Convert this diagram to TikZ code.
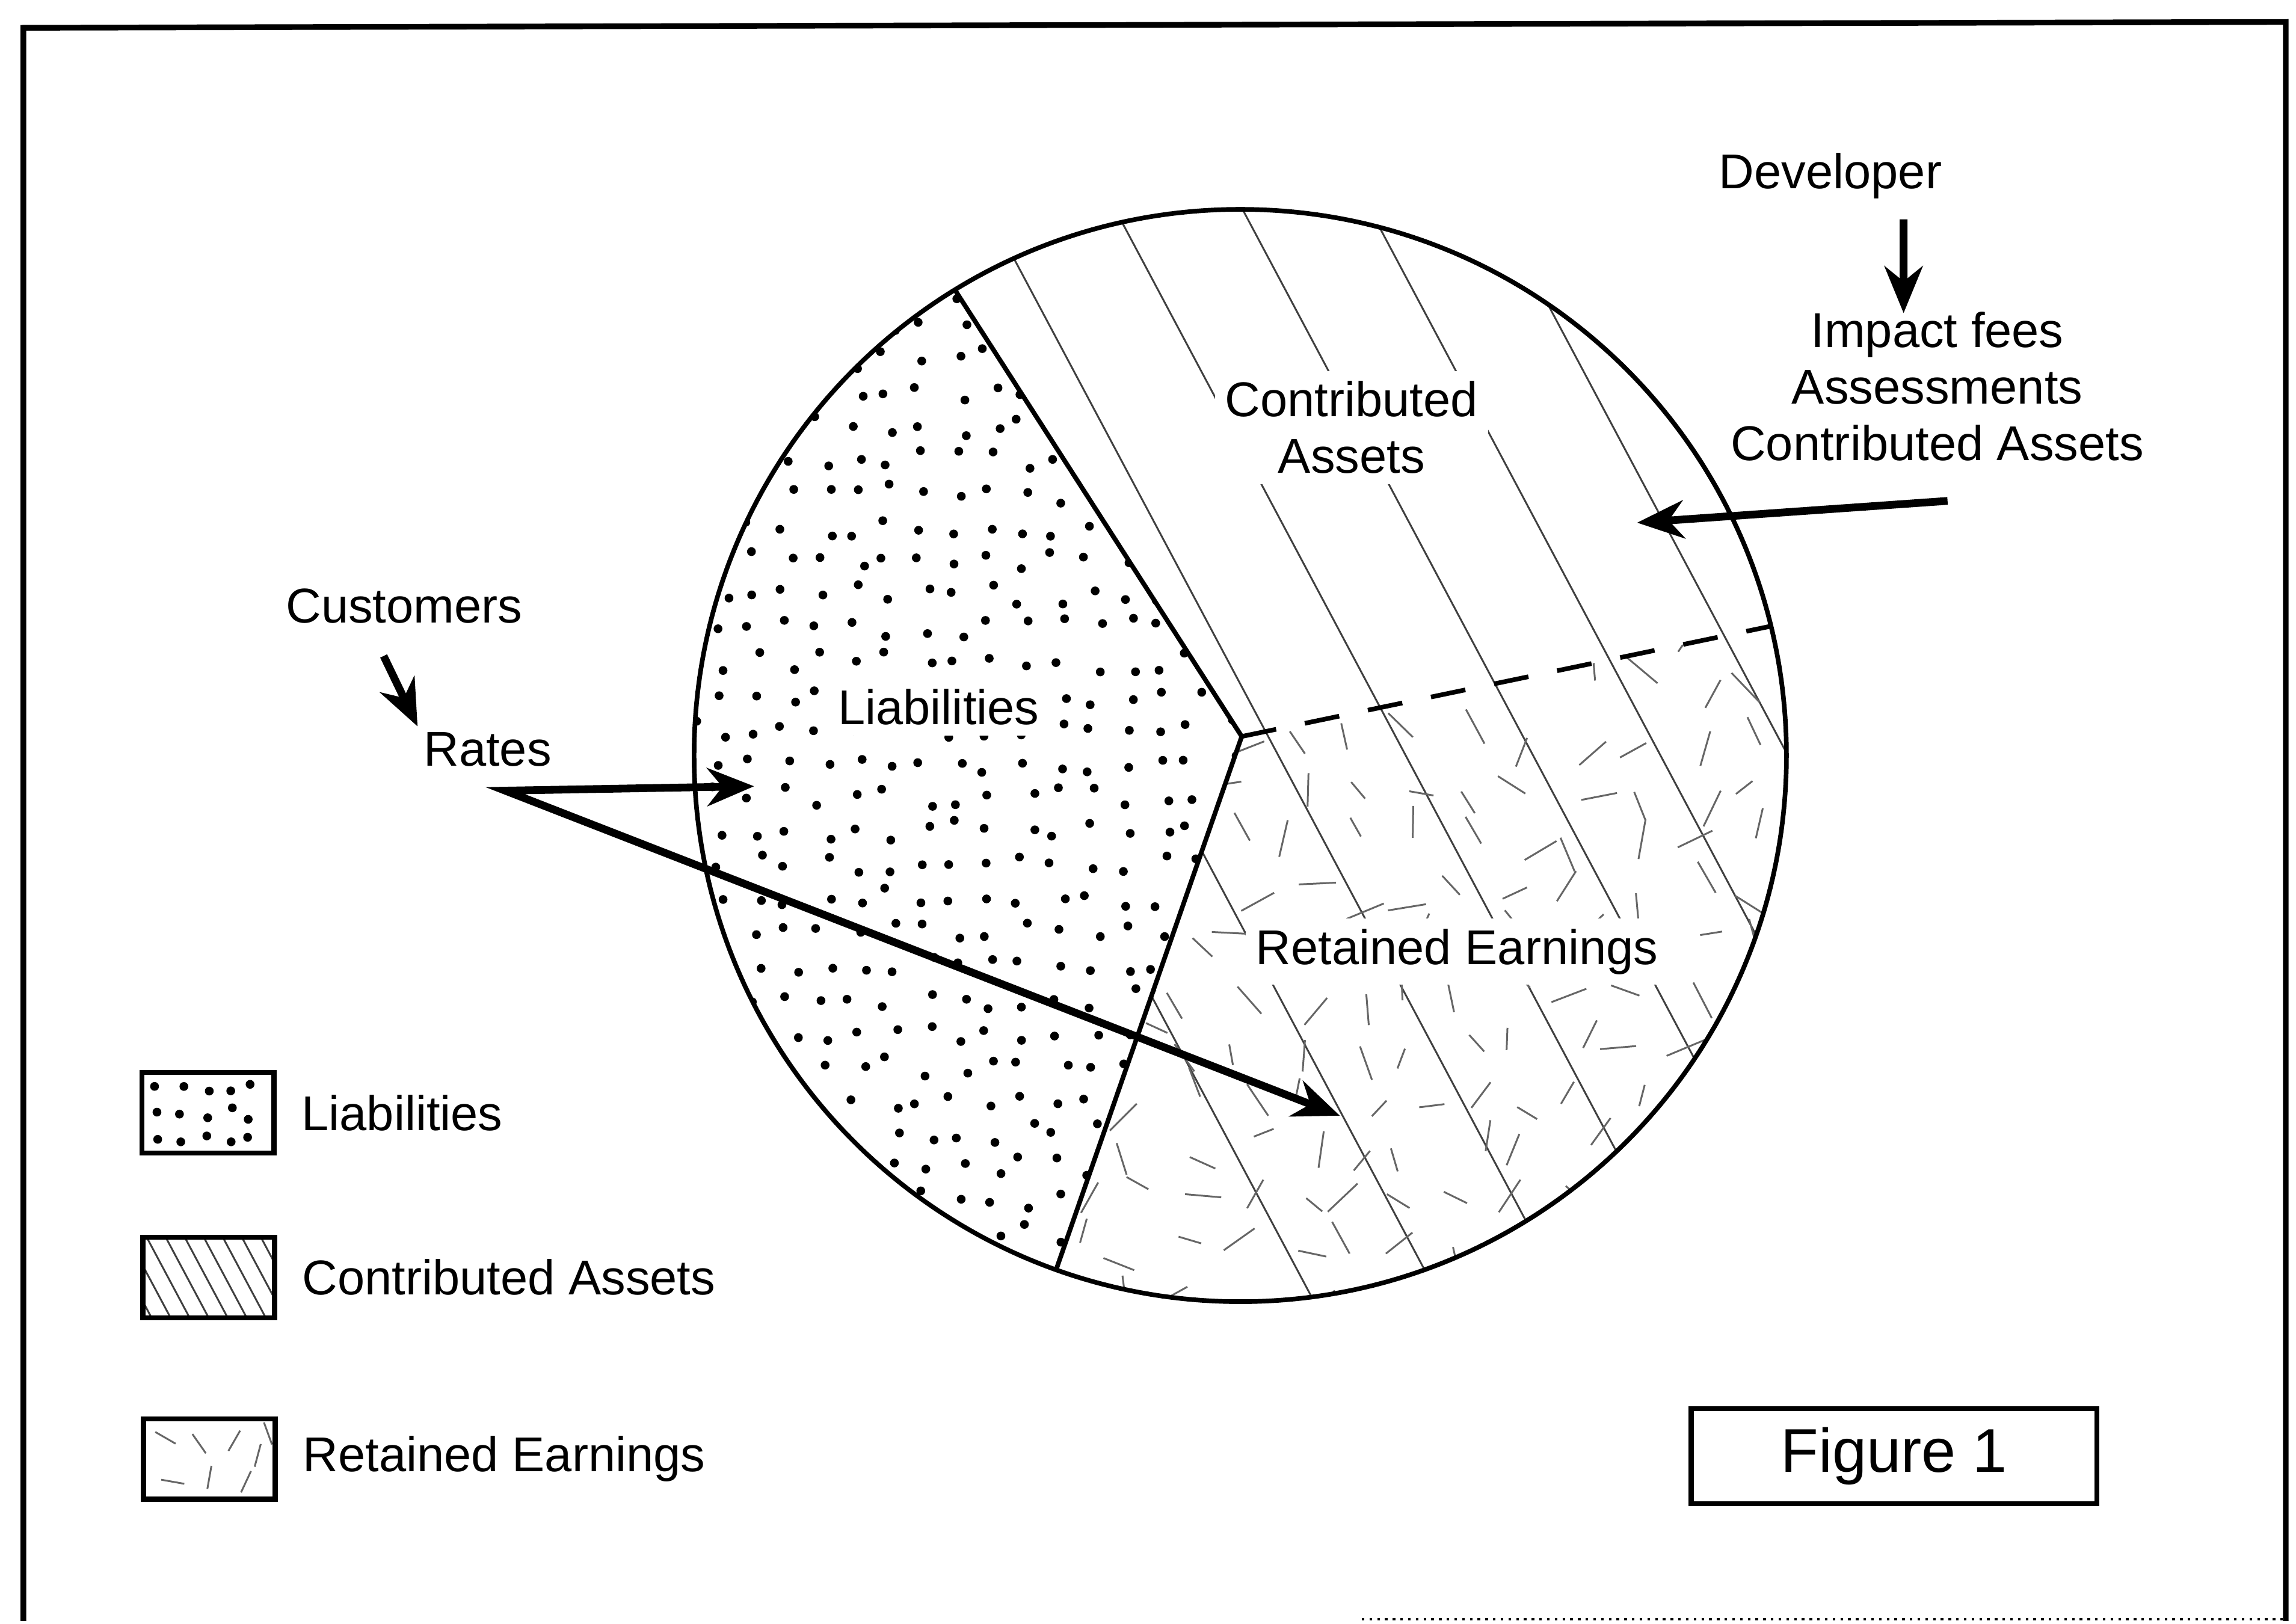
\documentclass[tikz,border=0pt]{standalone}
\usepackage{fontspec}
\setmainfont{Liberation Sans}
\usetikzlibrary{arrows.meta,positioning,calc}

\begin{document}
\begin{tikzpicture}[
 lab/.style={font=\fontsize{9.5}{11}\selectfont,inner sep=1pt,align=center},
 inlab/.style={lab,fill=white,inner sep=2pt},
 arr/.style={-{Stealth[length=3.2mm,width=2.6mm]},line width=1.5pt},
 dbl/.style={{Stealth[length=3.2mm,width=2.6mm]}-{Stealth[length=3.2mm,width=2.6mm]},line width=1.5pt},
 rim/.style={line width=0.9pt},
 hatch/.style={line width=0.35pt,black!75},
 scrib/.style={line width=0.35pt,black!60},
 key/.style={draw,line width=1pt,minimum width=9mm,minimum height=5.5mm,inner sep=0pt},
 frame/.style={line width=1.1pt}]
 \useasboundingbox (0,0) rectangle (15.68,11.09);
 \pgfmathsetseed{3}
 % outer frame
 \draw[frame] (0.16,0.02) -- (0.16,10.90) -- (15.61,10.94) -- (15.61,0.02);
 \draw[line width=0.5pt,densely dotted] (9.3,0.03) -- (15.61,0.03);
 % pie: centre and the point where the three parts meet
 \def\pieR{3.73}
 \coordinate (c) at (8.47,5.93);
 \coordinate (v) at (8.48,6.06);
 % contributed assets: slanted lines over everything right of the liabilities
 \begin{scope}
  \clip (v) -- ($(c)+(121.5:\pieR)$) arc[start angle=121.5,end angle=-109.7,radius=\pieR] -- cycle;
  \foreach \x in {6.99,7.86,...,13.95}
   \draw[hatch] (\x-2.66,10.93) -- (\x+2.66,0.93);
 \end{scope}
 % retained earnings: scribbles below the dashed split
 \begin{scope}
  \clip (v) -- ($(c)+(13.7:\pieR)$) arc[start angle=13.7,end angle=-109.7,radius=\pieR] -- cycle;
  \foreach \x in {7.0,7.38,...,12.3}
   \foreach \y in {2.2,2.55,...,7.0} {
    \pgfmathsetmacro\sang{rnd*180}
    \pgfmathsetmacro\slen{0.07+0.07*rnd}
    \draw[scrib] (\x+0.14*rand,\y+0.14*rand) ++(\sang:\slen) -- ++(\sang+180:2*\slen);
   }
 \end{scope}
 % liabilities: stipple
 \begin{scope}
  \clip (v) -- ($(c)+(121.5:\pieR)$) arc[start angle=121.5,end angle=250.3,radius=\pieR] -- cycle;
  \foreach \x in {4.7,4.93,...,8.6}
   \foreach \y in {2.2,2.43,...,9.3}
    \fill (\x+0.07*rand,\y+0.07*rand) circle (0.03);
 \end{scope}
 % outlines
 \draw[rim] ($(c)+(121.5:\pieR)$) -- (v) -- ($(c)+(250.3:\pieR)$);
 \draw[line width=0.9pt,dash pattern=on 2.4mm off 2mm] (v) -- ($(c)+(13.7:\pieR)$);
 \draw[rim] (c) circle (\pieR);
 % labels inside the pie
 \node[inlab] (ca) at (9.23,8.17) {Contributed\\Assets};
 \node[inlab] (li) at (6.41,6.26) {Liabilities};
 \node[inlab] (re) at (9.95,4.59) {Retained Earnings};
 % sources
 \node[lab] (dev) at (12.50,9.89) {Developer};
 \node[lab] (imp) at (13.23,8.45) {Impact fees\\Assessments\\Contributed Assets};
 \node[lab] (cust) at (2.76,6.95) {Customers};
 \node[lab] (rates) at (3.33,5.97) {Rates};
 \coordinate (feein) at (11.18,7.52);
 \coordinate (fork) at (3.45,5.69);
 \coordinate (liabin) at (5.15,5.72);
 \coordinate (earnin) at (9.15,3.47);
 \draw[arr] ([xshift=5mm,yshift=-1mm]dev.south) -- ([xshift=-2.3mm,yshift=-0.5mm]imp.north);
 \draw[arr] ([xshift=0.7mm,yshift=-2.3mm]imp.south) -- (feein);
 \draw[arr] ([xshift=-1.4mm,yshift=-1.8mm]cust.south) -- (rates.north west);
 \draw[dbl,line join=miter] (liabin) -- (fork) -- (earnin);
 % legend
 \node[key,path picture={
   \foreach \x in {0.1,0.26,...,0.85}
    \foreach \y in {0.1,0.27,0.44}
     \fill ([shift={(\x+0.04*rand,\y+0.04*rand)}]path picture bounding box.south west) circle (0.03);}]
  (kl) at (1.42,3.49) {};
 \node[lab,right=1.3mm of kl] (kll) {Liabilities};
 \node[key,path picture={
   \foreach \x in {-0.26,-0.13,...,0.95}
    \draw[hatch] ([shift={(\x,0.6)}]path picture bounding box.south west) -- ++(0.32,-0.6);}]
  (kc) at (1.425,2.365) {};
 \node[lab,right=1.3mm of kc] (kcl) {Contributed Assets};
 \node[key,path picture={
   \foreach \x/\y/\a in {0.15/0.42/-30,0.38/0.38/-55,0.62/0.4/60,0.78/0.3/75,0.2/0.12/-10,
     0.45/0.15/80,0.7/0.12/65,0.85/0.45/-70}
    \draw[scrib] ([shift={(\x,\y)}]path picture bounding box.south west) ++(\a:0.08) -- ++(\a+180:0.16);}]
  (kr) at (1.43,1.125) {};
 \node[lab,right=1.3mm of kr] (krl) {Retained Earnings};
 % caption box
 \node[draw,line width=1pt,minimum width=2.77cm,minimum height=0.65cm,
  font=\fontsize{12}{14}\selectfont] (fig) at (12.935,1.145) {Figure 1};
\end{tikzpicture}
\end{document}
